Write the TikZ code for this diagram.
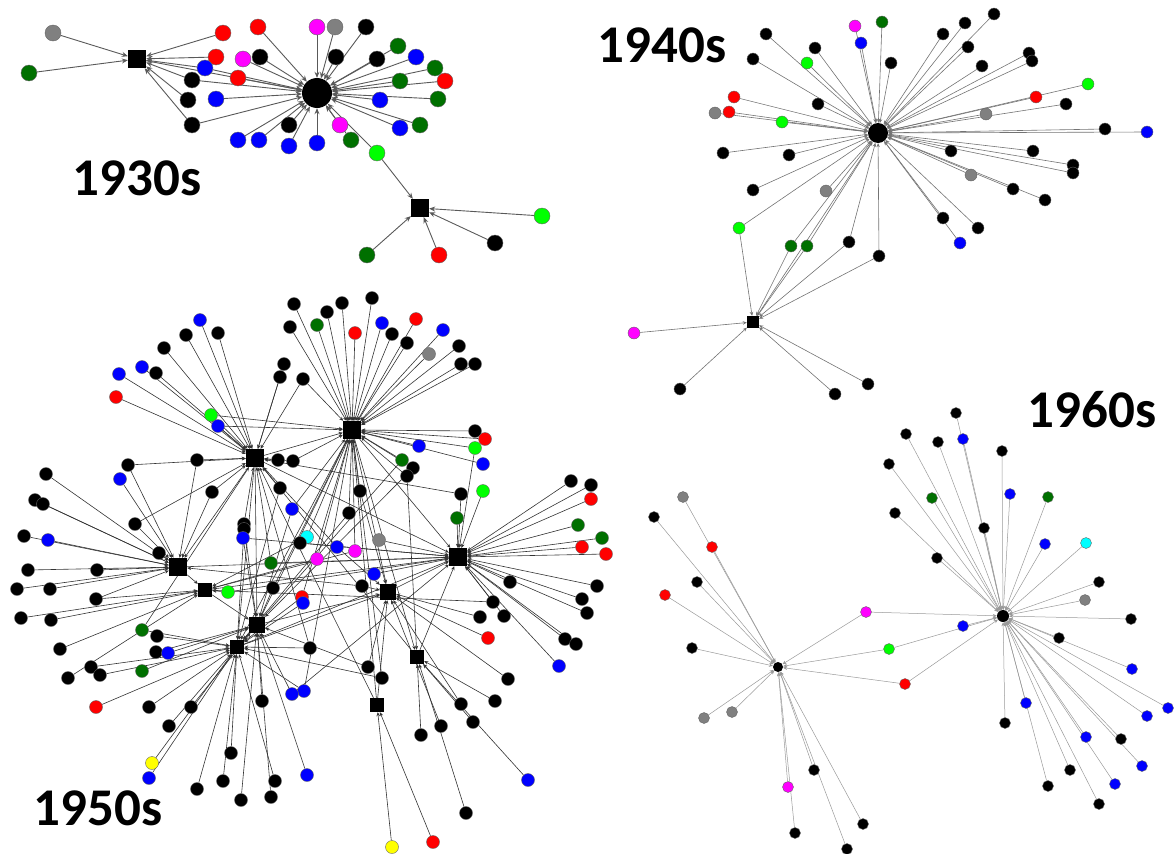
\documentclass[tikz,border=0pt]{standalone}
\usepackage{fontspec}
\setmainfont{Carlito}
\usepackage{xcolor}
\usetikzlibrary{arrows.meta,positioning}
\definecolor{dgreen}{RGB}{0,112,0}
\definecolor{green}{RGB}{0,255,0}
\definecolor{magenta}{RGB}{255,0,255}
\definecolor{cyan}{RGB}{0,255,255}
\definecolor{yellow}{RGB}{255,255,0}
\definecolor{red}{RGB}{255,0,0}
\definecolor{blue}{RGB}{0,0,255}
\definecolor{gray}{RGB}{128,128,128}
\pgfdeclarelayer{edges}
\pgfsetlayers{edges,main}
\tikzset{%
        leaf/.style = { circle, draw=black!60, line width=0.4pt, inner sep=0pt, minimum size=#1 },
       hubsq/.style = { rectangle, fill=black, inner sep=0pt, minimum size=#1 },
       hubci/.style = { circle, fill=black, inner sep=0pt, minimum size=#1 },
        link/.style = { line width=#1, -{Stealth[length=6pt,width=5pt]} },
       slink/.style = { line width=#1, -{Stealth[length=4pt,width=3.5pt]} },
      decade/.style = { font=\bfseries\fontsize{53}{53}\selectfont, inner sep=0pt }
}
% leaves: x/y/colour/{hubs}
\def\thirties{53/33/gray/{t1},29/73/dgreen/{t1},223/33/red/{t1},258/27/red/{t0},
  216/57/red/{t1},243/59/magenta/{t0},260/57/black/{t0},205/68/blue/{t1,t0},
  238/78/red/{t0},192/80/black/{t1,t0},188/100/black/{t1},216/99/blue/{t0},
  192/125/black/{t1,t0},317/27/magenta/{t0},335/27/gray/{t0},366/27/black/{t0},
  336/57/black/{t0},377/59/black/{t0},398/46/dgreen/{t0},416/57/blue/{t0},
  435/68/dgreen/{t0},445/81/red/{t0},400/81/dgreen/{t0},380/100/blue/{t0},
  438/99/dgreen/{t0},400/128/blue/{t0},420/125/dgreen/{t0},340/125/magenta/{t0},
  351/140/dgreen/{t0},377/153/green/{t0,t2},317/143/blue/{t0},289/146/blue/{t0},
  289/125/black/{t0},259/140/blue/{t0},238/140/blue/{t0},542/216/green/{t2},
  495/243/black/{t2},439/255/red/{t2},367/255/dgreen/{t2}}
\def\forties{766/34/black/{f0},753/59/black/{f0},815/48/black/{f0},807/63/green/{f0},
  855/26/magenta/{f0},882/22/dgreen/{f0},861/43/blue/{f0},891/63/black/{f0},
  943/34/black/{f0},965/23/black/{f0},994/14/black/{f0},968/47/black/{f0},
  982/66/black/{f0},1029/53/black/{f0},1032/61/black/{f0},1088/84/green/{f0},
  1036/97/red/{f0},1066/104/black/{f0},986/114/gray/{f0},1105/129/black/{f0},
  1147/132/blue/{f0},734/97/red/{f0},729/112/red/{f0},715/113/gray/{f0},
  782/122/green/{f0},818/104/black/{f0},723/153/black/{f0},789/155/black/{f0},
  951/151/black/{f0},1033/151/black/{f0},1073/165/black/{f0},1073/173/black/{f0},
  971/175/gray/{f0},1013/189/black/{f0},1045/200/black/{f0},753/190/black/{f0},
  826/191/gray/{f0},943/218/black/{f0},978/228/black/{f0},960/243/blue/{f0},
  739/228/green/{f0,f1},791/246/dgreen/{f0,f1},807/246/dgreen/{f0,f1},
  849/242/black/{f0,f1},879/256/black/{f0,f1},634/333/magenta/{f1},
  680/389/black/{f1},835/394/black/{f1},868/384/black/{f1}}
\def\fifties{294/304/black/{qc},317/325/dgreen/{qc},290/327/black/{qc},
  372/298/black/{qc},342/303/black/{qc},327/312/black/{qc},355/333/red/{qc},
  382/323/blue/{qc},392/334/black/{qc},416/319/red/{qc},407/343/black/{qc},
  443/330/blue/{qc},429/354/gray/{qc},459/346/black/{qc},461/364/black/{qc},
  475/364/black/{qc},303/379/black/{qc,qa},284/364/black/{qa},280/377/black/{qa},
  200/320/blue/{qa},186/335/black/{qa},218/333/black/{qa},164/348/black/{qa},
  142/367/blue/{qa},156/373/black/{qa},119/374/blue/{qa},116/397/red/{qa},
  211/415/green/{qa,qc},218/426/blue/{qa,qc},278/460/black/{qa},
  293/461/black/{qa,qc},197/460/black/{qa,qb},128/465/black/{qa,qb},
  120/479/blue/{qb},46/474/black/{qb},35/500/black/{qb},43/504/black/{qb},
  212/492/black/{qa,qb},280/488/black/{qa,qg},292/509/blue/{qc,qf},
  135/524/black/{qb,qa},24/536/black/{qb},48/540/blue/{qb},159/553/black/{qb},
  244/524/black/{qa,qf},244/529/black/{qg},243/538/blue/{qf,qd},
  307/537/cyan/{qc,qe},300/543/black/{qd},271/563/dgreen/{qa,qd},
  317/559/magenta/{qc,qe},28/570/black/{qb},97/570/black/{qb},
  475/431/black/{qc},485/439/red/{qc},475/448/green/{qc,qd},419/446/blue/{qc},
  483/464/blue/{qc},402/460/dgreen/{qc,qg},413/468/black/{qc,qf},
  407/476/black/{qc,qi},483/491/green/{qd},461/494/black/{qd,qa},
  360/491/black/{qc,qh},457/518/dgreen/{qd},349/513/black/{qc,qg},
  337/547/blue/{qa,qh},355/551/magenta/{qc,qe},379/540/gray/{qd},374/574/blue/{qd},
  571/481/black/{qd},591/485/black/{qd},591/499/red/{qd},578/525/dgreen/{qd},
  602/538/dgreen/{qd},582/547/red/{qd},606/554/red/{qd},510/582/black/{qd},
  597/586/black/{qd},582/599/black/{qd},587/613/black/{qd},493/602/black/{qd,qe},
  480/617/black/{qh},504/616/black/{qd},488/638/red/{qh},565/639/black/{qd},
  576/644/black/{qd},559/666/blue/{qd},508/679/black/{qh},495/701/black/{qi},
  461/704/black/{qh},473/722/black/{qi},441/726/black/{qh},421/735/black/{qi},
  528/780/blue/{qi},466/813/black/{qi},433/842/red/{qj},392/847/yellow/{qj},
  362/586/black/{qh,qb},368/667/black/{qh,qf},382/678/black/{qg,qc},
  310/648/black/{qg,qa},304/691/blue/{qg,qc},307/775/blue/{qf},
  17/589/black/{qb},50/589/black/{qb},96/599/black/{qb,qe},21/618/black/{qe},
  51/620/black/{qe},228/592/green/{qe,qd},273/588/black/{qf,qc},
  302/597/red/{qg,qc},303/603/blue/{qg},142/630/dgreen/{qg,qa},157/636/black/{qg},
  60/649/black/{qe},156/652/black/{qf},168/653/blue/{qf},91/667/black/{qg},
  100/675/black/{qg},68/678/black/{qe},142/671/dgreen/{qf},96/707/red/{qg},
  149/707/black/{qg},191/707/black/{qf},169/726/black/{qg},262/701/black/{qf},
  292/694/blue/{qf,qd},231/753/black/{qg},152/763/yellow/{qg},149/778/blue/{qg},
  197/789/black/{qg},223/781/black/{qg},241/800/black/{qf},275/781/black/{qg},
  271/797/black/{qf}}
\def\sixties{683/497/gray/{s0},654/517/black/{s0},712/547/red/{s0},
  697/582/black/{s0},665/595/red/{s0},692/648/black/{s0},866/612/magenta/{s0,s1},
  889/649/green/{s0,s1},963/626/blue/{s1},905/684/red/{s0,s1},704/718/gray/{s0},
  732/712/gray/{s0},814/770/black/{s0},788/787/magenta/{s0},863/824/black/{s0},
  795/833/black/{s0},847/849/black/{s0},956/413/black/{s1},906/434/black/{s1},
  938/442/black/{s1},963/439/blue/{s1},1002/451/black/{s1},889/464/black/{s1},
  932/498/dgreen/{s1},1010/494/blue/{s1},1048/497/dgreen/{s1},895/513/black/{s1},
  984/528/black/{s1},1045/544/blue/{s1},1086/543/cyan/{s1},937/558/black/{s1},
  1099/582/black/{s1},1085/600/gray/{s1},1131/619/black/{s1},1059/638/black/{s1},
  1132/669/blue/{s1},1026/703/blue/{s1},1005/723/black/{s1},1168/708/blue/{s1},
  1147/716/blue/{s1},1086/737/blue/{s1},1121/739/black/{s1},1142/766/blue/{s1},
  1070/770/black/{s1},1048/786/black/{s1},1115/784/blue/{s1},1099/804/black/{s1}}

\begin{document}
\begin{tikzpicture}[x=1pt,y=-1pt]
  \useasboundingbox (0,0) rectangle (1176,854);

  % 1930s
  \node[hubci=30pt] (t0) at (317,93) {};
  \node[hubsq=18pt] (t1) at (137,59) {};
  \node[hubsq=18pt] (t2) at (420,208) {};
  \foreach \x/\y/\c/\hs [count=\i] in \thirties
    \node[leaf=16pt, fill=\c] (t-\i) at (\x,\y) {};
  \node[decade] (l30) at (137,178) {1930s};

  % 1940s
  \node[hubci=20pt] (f0) at (878,133) {};
  \node[hubsq=12pt] (f1) at (753,322) {};
  \foreach \x/\y/\c/\hs [count=\i] in \forties
    \node[leaf=12pt, fill=\c] (f-\i) at (\x,\y) {};
  \node[decade] (l40) at (662,45) {1940s};

  % 1950s
  \node[hubsq=18pt] (qa) at (255,458) {};
  \node[hubsq=18pt] (qc) at (352,430) {};
  \node[hubsq=18pt] (qb) at (178,567) {};
  \node[hubsq=14pt] (qe) at (205,590) {};
  \node[hubsq=16pt] (qf) at (257,625) {};
  \node[hubsq=14pt] (qg) at (237,647) {};
  \node[hubsq=18pt] (qd) at (458,557) {};
  \node[hubsq=16pt] (qh) at (388,592) {};
  \node[hubsq=14pt] (qi) at (417,657) {};
  \node[hubsq=14pt] (qj) at (377,705) {};
  \foreach \x/\y/\c/\hs [count=\i] in \fifties
    \node[leaf=13pt, fill=\c] (q-\i) at (\x,\y) {};
  \node[decade] (l50) at (98,808) {1950s};

  % 1960s
  \node[hubci=10pt] (s0) at (778,667) {};
  \node[hubci=12pt] (s1) at (1003,616) {};
  \foreach \x/\y/\c/\hs [count=\i] in \sixties
    \node[leaf=11pt, fill=\c] (s-\i) at (\x,\y) {};
  \node[decade] (l60) at (1092,410) {1960s};

  \begin{pgfonlayer}{edges}
    \foreach \x/\y/\c/\hs [count=\i] in \thirties
      \foreach \h in \hs
        \draw[link=0.9pt, black!65] (t-\i) -- (\h);
    \draw[link=0.9pt, black!65] (t1) -- (t0);

    \foreach \x/\y/\c/\hs [count=\i] in \forties
      \foreach \h in \hs
        \draw[slink=0.6pt, black!55] (f-\i) -- (\h);
    \draw[slink=0.6pt, black!55] (f1) -- (f0);

    \foreach \x/\y/\c/\hs [count=\i] in \fifties
      \foreach \h in \hs
        \draw[slink=0.6pt, black!80] (q-\i) -- (\h);
    \foreach \a/\b in {qa/qc,qa/qb,qa/qf,qa/qg,qc/qd,qc/qf,qc/qh,qc/qi,qc/qg,
                       qb/qe,qe/qf,qf/qg,qg/qh,qh/qd,qi/qd,qj/qh,qj/qc,qe/qd,
                       qb/qd,qa/qd,qg/qd,qf/qh,qi/qa,qj/qa}
      \draw[slink=0.6pt, black!80] (\a) -- (\b);

    \foreach \x/\y/\c/\hs [count=\i] in \sixties
      \foreach \h in \hs
        \draw[slink=0.5pt, black!40] (s-\i) -- (\h);
  \end{pgfonlayer}
\end{tikzpicture}
\end{document}
